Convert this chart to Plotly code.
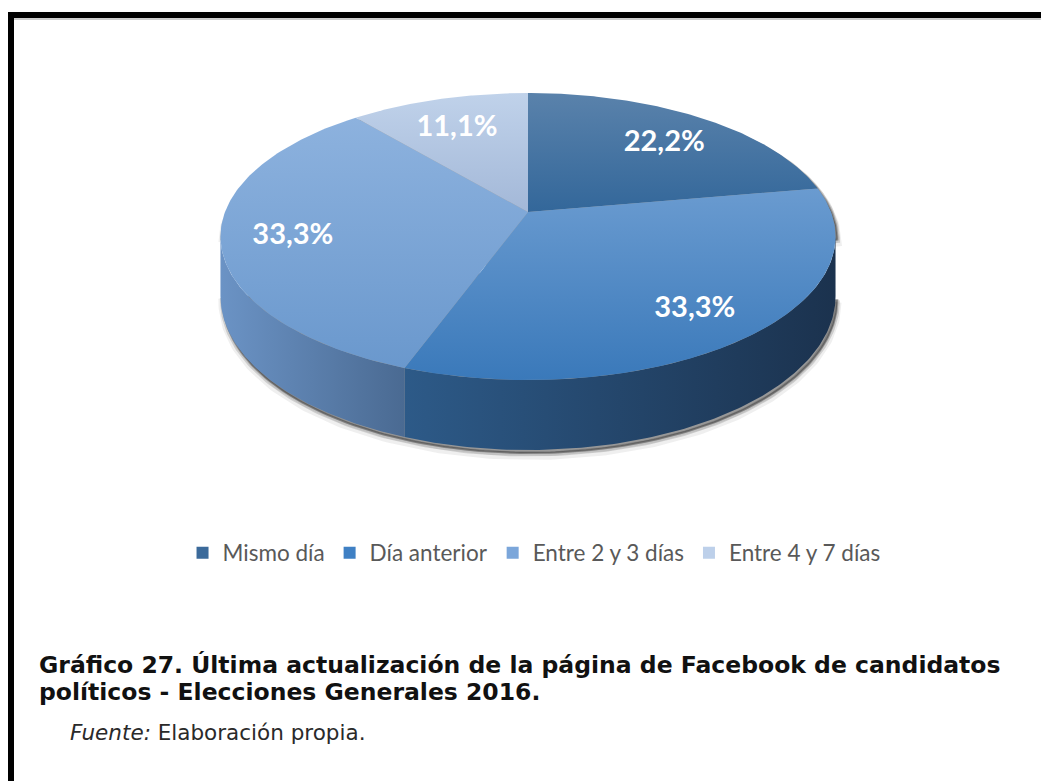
import math
import plotly.graph_objects as go

# Survey data: time since the last Facebook page update
categories = ["Mismo día", "Día anterior", "Entre 2 y 3 días", "Entre 4 y 7 días"]
values = [22.2, 33.3, 33.3, 11.1]
legend_colors = ["#3b6a9a", "#3f80c4", "#7ba6da", "#bdd0ea"]
# (upper, lower) colours of each top face
top_gradients = [("#5a82ab", "#33679a"), ("#6a9bd0", "#3a79ba"),
                 ("#8db2de", "#6a98cd"), ("#c0d2ea", "#a3b8d8")]
# (left, right) colours of each front wall
side_gradients = [("#3a6a9a", "#27476b"), ("#2d5a88", "#1b324e"),
                  ("#6b93c5", "#4a6a92"), ("#b0c4e0", "#8ea4c4")]

W, HGT = 1041, 781
# 3D pie geometry (screen pixels)
CX, CY = 528, 212        # projected centre of the top face
RA, RB = 303, 139.3      # horizontal / vertical radii
K = 0.171                # perspective strength
DEPTH = 58               # thickness of the pie
LABEL_R = 0.77           # label distance as a fraction of the radius
LABEL_DY = 6             # optical correction for the label baseline


def rim(theta, f=1.0):
    t = math.radians(theta)
    w = math.cos(t)
    s = 1.0 / (1.0 + K * f * w)
    return CX + RA * f * math.sin(t) * s, CY - RB * f * w * s, s


def arc(a, b, n=120):
    return [a + (b - a) * i / n for i in range(n + 1)]


# visible front wall spans the horizontal extremes of the top ellipse
vis_lo = math.degrees(math.acos(-K))
vis_hi = 360 - vis_lo

total = sum(values)
bounds = [0.0]
for v in values:
    bounds.append(bounds[-1] + v / total * 360)

fig = go.Figure()

# soft drop shadow under the pie
sil = arc(vis_hi - 360, vis_lo, 200)
front = arc(vis_lo, vis_hi, 200)
for dy, alpha, lw in [(6, 0.07, 8), (4, 0.16, 5), (3, 0.3, 2)]:
    xs, ys = [], []
    for th in front:
        x, y, s = rim(th)
        xs.append(x + 2)
        ys.append(y + DEPTH * s + dy)
    for th in reversed(sil):
        x, y, s = rim(th)
        xs.append(x + 2)
        ys.append(y + dy)
    fig.add_trace(go.Scatter(x=xs, y=ys, fill="toself", mode="lines",
                             fillcolor=f"rgba(30,30,30,{alpha})",
                             line=dict(color=f"rgba(30,30,30,{alpha})", width=lw),
                             hoverinfo="skip", showlegend=False))

# front walls
for i in range(len(values)):
    a, b = max(bounds[i], vis_lo), min(bounds[i + 1], vis_hi)
    if b <= a:
        continue
    xs, ys = [], []
    for th in arc(a, b):
        x, y, s = rim(th)
        xs.append(x)
        ys.append(y)
    for th in arc(b, a):
        x, y, s = rim(th)
        xs.append(x)
        ys.append(y + DEPTH * s)
    c0, c1 = side_gradients[i]
    fig.add_trace(go.Scatter(x=xs, y=ys, fill="toself", mode="lines",
                             line=dict(width=0),
                             fillgradient=dict(type="horizontal",
                                               colorscale=[[0, c0], [1, c1]]),
                             hoverinfo="skip", showlegend=False))

# top faces
for i in range(len(values)):
    xs, ys = [CX], [CY]
    for th in arc(bounds[i], bounds[i + 1]):
        x, y, _ = rim(th)
        xs.append(x)
        ys.append(y)
    xs.append(CX)
    ys.append(CY)
    c_up, c_low = top_gradients[i]
    fig.add_trace(go.Scatter(x=xs, y=ys, fill="toself", mode="lines",
                             line=dict(width=0),
                             fillgradient=dict(type="vertical",
                                               colorscale=[[0, c_low], [1, c_up]]),
                             hoverinfo="skip", showlegend=False))

# percentage labels
lx, ly, lt = [], [], []
for i, v in enumerate(values):
    mid = (bounds[i] + bounds[i + 1]) / 2
    x, y, _ = rim(mid, LABEL_R)
    lx.append(x)
    ly.append(y + LABEL_DY)
    lt.append(f"{v:.1f}%".replace(".", ","))
fig.add_trace(go.Scatter(x=lx, y=ly, text=lt, mode="text",
                         textfont=dict(family="Lato", size=29, color="white", weight="bold"),
                         hoverinfo="skip", showlegend=False))

# legend entries
for name, col in zip(categories, legend_colors):
    fig.add_trace(go.Scatter(x=[None], y=[None], mode="markers", name=name,
                             marker=dict(symbol="square", size=12, color=col)))

fig.update_layout(
    width=W, height=HGT,
    margin=dict(l=0, r=0, t=0, b=0),
    paper_bgcolor="white", plot_bgcolor="white",
    xaxis=dict(range=[0, W], visible=False, fixedrange=True),
    yaxis=dict(range=[HGT, 0], visible=False, fixedrange=True),
    legend=dict(orientation="h", x=0.513, xanchor="center",
                y=1 - 553 / HGT, yanchor="middle",
                font=dict(family="Lato", size=22.5, color="#595959"),
                itemwidth=30, tracegroupgap=0,
                bgcolor="rgba(0,0,0,0)"),
    shapes=[
        dict(type="rect", xref="x", yref="y", x0=8, x1=W, y0=12, y1=18,
             fillcolor="black", line=dict(width=0)),
        dict(type="rect", xref="x", yref="y", x0=8, x1=14, y0=12, y1=HGT,
             fillcolor="black", line=dict(width=0)),
        dict(type="line", xref="x", yref="y", x0=14, x1=W, y0=19, y1=19,
             line=dict(color="#9a9a9a", width=1)),
    ],
    annotations=[
        dict(x=37, y=665, xref="x", yref="y", xanchor="left", yanchor="middle",
             showarrow=False,
             text="<b>Gráfico 27. Última actualización de la página de Facebook de candidatos</b>",
             font=dict(family="DejaVu Sans", size=23.5, color="#111111")),
        dict(x=37, y=692, xref="x", yref="y", xanchor="left", yanchor="middle",
             showarrow=False,
             text="<b>políticos - Elecciones Generales 2016.</b>",
             font=dict(family="DejaVu Sans", size=23.5, color="#111111")),
        dict(x=68, y=732, xref="x", yref="y", xanchor="left", yanchor="middle",
             showarrow=False,
             text="<i>Fuente:</i> Elaboración propia.",
             font=dict(family="DejaVu Sans", size=21.5, color="#2a2a2a")),
    ],
)

fig.write_html("out.html")
